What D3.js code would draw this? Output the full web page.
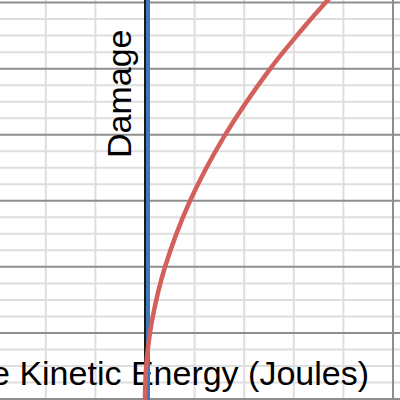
<!DOCTYPE html>
<html>
<head>
<meta charset="utf-8">
<script src="https://cdn.jsdelivr.net/npm/d3@7"></script>
<style>
  html, body { margin: 0; padding: 0; background: #fff; }
  svg { display: block; }
</style>
</head>
<body>
<svg id="chart" width="400" height="400"></svg>
<script>
// Data
const energy = [0, 0.002, 0.01, 0.05, 0.15, 0.4, 0.9, 1.6, 2.5, 3.1, 3.7, 4.3];
const damage = [0, 0.28, 0.63, 1.41, 2.44, 3.98, 5.97, 7.96, 9.95, 11.07, 12.1, 13.04];
const xMinorTicks = [-2, -1, 1, 2, 3, 4];
const xMajorTicks = [0, 5];
const yMinorTicks = [0.5, 1, 1.5, 2.5, 3, 3.5, 4.5, 5, 5.5, 6.5, 7, 7.5, 8.5, 9, 9.5, 10.5, 11, 11.5];
const yMajorTicks = [0, 2, 4, 6, 8, 10, 12];
const xLabel = "Relative Kinetic Energy (Joules)";
const yLabel = "Damage";

const W = 400, H = 400;
const x = d3.scaleLinear().domain([-145 / 49.6, 255 / 49.6]).range([0, W]);
const y = d3.scaleLinear().domain([-1 / 33.2, 401 / 33.2]).range([H, 0]);

const svg = d3.select("#chart");

// minor grid
svg.append("g").selectAll("line").data(xMinorTicks).join("line")
  .attr("x1", d => x(d)).attr("x2", d => x(d)).attr("y1", 0).attr("y2", H)
  .attr("stroke", "#dedede").attr("stroke-width", 2);
svg.append("g").selectAll("line").data(yMinorTicks).join("line")
  .attr("y1", d => y(d)).attr("y2", d => y(d)).attr("x1", 0).attr("x2", W)
  .attr("stroke", "#dedede").attr("stroke-width", 2);

// major grid
svg.append("g").selectAll("line").data(yMajorTicks).join("line")
  .attr("y1", d => y(d)).attr("y2", d => y(d)).attr("x1", 0).attr("x2", W)
  .attr("stroke", "#8e8e8e").attr("stroke-width", 2);
svg.append("g").selectAll("line").data(xMajorTicks).join("line")
  .attr("x1", d => x(d)).attr("x2", d => x(d)).attr("y1", 0).attr("y2", H)
  .attr("stroke", d => d === 0 ? "#1a1a1a" : "#8e8e8e").attr("stroke-width", 2);

// labels
svg.append("text")
  .attr("x", 369).attr("y", 385)
  .attr("text-anchor", "end")
  .attr("font-family", "Liberation Sans, Arial, sans-serif")
  .attr("font-size", 34)
  .attr("fill", "#000")
  .text(xLabel);

svg.append("text")
  .attr("transform", "translate(131,158) rotate(-90)")
  .attr("text-anchor", "start")
  .attr("font-family", "Liberation Sans, Arial, sans-serif")
  .attr("font-size", 34)
  .attr("fill", "#000")
  .text(yLabel);

// blue vertical line (x = 0 plotted)
svg.append("line")
  .attr("x1", x(0) + 3).attr("x2", x(0) + 3).attr("y1", 0).attr("y2", H)
  .attr("stroke", "#3f78b6").attr("stroke-width", 4);

// red curve
const pts = energy.map((e, i) => [e, damage[i]]);
const line = d3.line()
  .x(d => x(d[0])).y(d => y(d[1]))
  .curve(d3.curveCatmullRom.alpha(0.5));
svg.append("path")
  .datum(pts)
  .attr("d", line)
  .attr("fill", "none")
  .attr("stroke", "#d4605c")
  .attr("stroke-width", 4.5)
  .attr("stroke-linecap", "round");
</script>
</body>
</html>
